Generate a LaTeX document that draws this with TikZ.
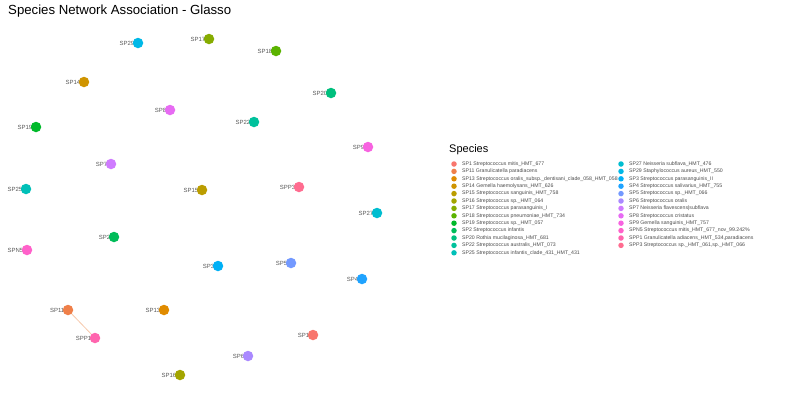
\documentclass[tikz,border=0pt]{standalone}
\usepackage{fontspec}
\setmainfont{Liberation Sans}
\usetikzlibrary{positioning}
\definecolor{sp1}{HTML}{F8766D}
\definecolor{sp11}{HTML}{EF7F49}
\definecolor{sp13}{HTML}{E08B00}
\definecolor{sp14}{HTML}{CF9400}
\definecolor{sp15}{HTML}{BB9D00}
\definecolor{sp16}{HTML}{A3A500}
\definecolor{sp17}{HTML}{86AC00}
\definecolor{sp18}{HTML}{5BB300}
\definecolor{sp19}{HTML}{00B92A}
\definecolor{sp2}{HTML}{00BC59}
\definecolor{sp20}{HTML}{00BF7D}
\definecolor{sp22}{HTML}{00C19C}
\definecolor{sp25}{HTML}{00C0B8}
\definecolor{sp27}{HTML}{00BDD0}
\definecolor{sp29}{HTML}{00B8E7}
\definecolor{sp3}{HTML}{00B0F6}
\definecolor{sp4}{HTML}{1FA3FF}
\definecolor{sp5}{HTML}{7399FF}
\definecolor{sp6}{HTML}{AA89FF}
\definecolor{sp7}{HTML}{CF7BFF}
\definecolor{sp8}{HTML}{E76BF3}
\definecolor{sp9}{HTML}{F763E0}
\definecolor{spn5}{HTML}{FF61CA}
\definecolor{spp1}{HTML}{FF65AE}
\definecolor{spp3}{HTML}{FF6C90}
\definecolor{edgepeach}{HTML}{F6C9AC}

\begin{document}
\begin{tikzpicture}[
    x=1pt, y=-1pt,
    dot/.style={circle, fill=#1, inner sep=0pt, minimum size=10.5pt},
    tag/.style={anchor=east, inner sep=0pt, text=black!65, font=\fontsize{6}{6}\selectfont},
    key/.style={circle, fill=#1, inner sep=0pt, minimum size=5.5pt},
    entry/.style={inner sep=0pt, text=black!70, font=\fontsize{5.2}{5.2}\selectfont},
    link/.style={edgepeach, line width=0.8pt}
]
\useasboundingbox (0,0) rectangle (800,400);
\node[anchor=base west, inner sep=0pt, font=\fontsize{13.2}{13.2}\selectfont] (title) at (8,14) {Species Network Association - Glasso};

% network
\foreach \n/\x/\y/\t in {sp29/138/43/SP29, sp17/209/39/SP17, sp18/276/51/SP18, sp14/84/82/SP14,
    sp20/331/93/SP20, sp8/170/110/SP8, sp22/254/122/SP22, sp19/36/127/SP19, sp9/368/147/SP9,
    sp7/111/164/SP7, sp25/26/189/SP25, sp15/202/190/SP15, spp3/299/187/SPP3, sp27/377/213/SP27,
    sp2/114/237/SP2, spn5/27/250/SPN5, sp3/218/266/SP3, sp5/291/263/SP5, sp4/362/279/SP4,
    sp11/68/310/SP11, sp13/164/310/SP13, spp1/95/338/SPP1, sp1/313/335/SP1, sp6/248/356/SP6,
    sp16/180/375/SP16}{
  \node[tag] (\n-tag) at (\x-3.5,\y) {\t};
  \node[dot=\n] (\n) at (\x,\y) {};
}
\draw[link] (sp11) -- (spp1);

% legend
\node[anchor=west, inner sep=0pt, font=\fontsize{11}{11}\selectfont] (legend) at (449,150) {Species};
\foreach \n/\t [count=\i from 0] in {sp1/{SP1 Streptococcus mitis\_HMT\_677},
    sp11/{SP11 Granulicatella paradiacens},
    sp13/{SP13 Streptococcus oralis\_subsp.\_dentisani\_clade\_058\_HMT\_058},
    sp14/{SP14 Gemella haemolysans\_HMT\_626},
    sp15/{SP15 Streptococcus sanguinis\_HMT\_758},
    sp16/{SP16 Streptococcus sp.\_HMT\_064},
    sp17/{SP17 Streptococcus parasanguinis\_I},
    sp18/{SP18 Streptococcus pneumoniae\_HMT\_734},
    sp19/{SP19 Streptococcus sp.\_HMT\_057},
    sp2/{SP2 Streptococcus infantis},
    sp20/{SP20 Rothia mucilaginosa\_HMT\_681},
    sp22/{SP22 Streptococcus australis\_HMT\_073},
    sp25/{SP25 Streptococcus infantis\_clade\_431\_HMT\_431}}{
  \node[key=\n] (\n-key) at (454,164+7.4*\i) {};
  \node[entry, right=5pt of \n-key] (\n-entry) {\t};
}
\foreach \n/\t [count=\i from 0] in {sp27/{SP27 Neisseria subflava\_HMT\_476},
    sp29/{SP29 Staphylococcus aureus\_HMT\_550},
    sp3/{SP3 Streptococcus parasanguinis\_II},
    sp4/{SP4 Streptococcus salivarius\_HMT\_755},
    sp5/{SP5 Streptococcus sp.\_HMT\_066},
    sp6/{SP6 Streptococcus oralis},
    sp7/{SP7 Neisseria flavescens|subflava},
    sp8/{SP8 Streptococcus cristatus},
    sp9/{SP9 Gemella sanguinis\_HMT\_757},
    spn5/{SPN5 Streptococcus mitis\_HMT\_677\_nov\_99.242\%},
    spp1/{SPP1 Granulicatella adiacens\_HMT\_534,paradiacens},
    spp3/{SPP3 Streptococcus sp.\_HMT\_061,sp.\_HMT\_066}}{
  \node[key=\n] (\n-key) at (621,164+7.4*\i) {};
  \node[entry, right=5pt of \n-key] (\n-entry) {\t};
}
\end{tikzpicture}
\end{document}
